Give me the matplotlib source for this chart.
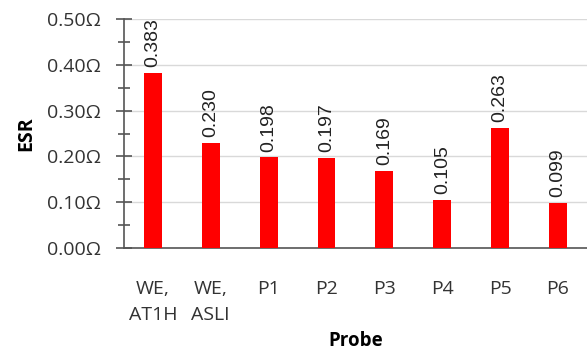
import numpy as np
import matplotlib.pyplot as plt
from matplotlib.ticker import MultipleLocator, FuncFormatter

# Daten
probes = ["WE,\nAT1H", "WE,\nASLI", "P1", "P2", "P3", "P4", "P5", "P6"]
esr = [0.383, 0.230, 0.198, 0.197, 0.169, 0.105, 0.263, 0.099]
value_labels = ["0.383", "0.230", "0.198", "0.197", "0.169", "0.105", "0.263", "0.099"]

fig = plt.figure(figsize=(5.87, 3.54), dpi=100)
ax = fig.add_axes([0.211, 0.2994, 0.789, 0.6469])

x = np.arange(len(probes))
ax.bar(x, esr, width=0.31, color="#ff0000", zorder=3)

for xi, v, lab in zip(x, esr, value_labels):
    ax.text(xi, v + 0.012, lab, rotation=90, ha="center", va="bottom",
            fontsize=14, family="Liberation Sans", color="#222222")

ax.set_xlim(-0.5, len(probes) - 0.5)
ax.set_ylim(0, 0.5)
ax.yaxis.set_major_locator(MultipleLocator(0.1))
ax.yaxis.set_minor_locator(MultipleLocator(0.05))
ax.yaxis.set_major_formatter(FuncFormatter(lambda v, p: f"{v:.2f}\u03a9"))
ax.grid(axis="y", which="major", color="#d9d9d9", linewidth=1, zorder=0)

for s in ["top", "right"]:
    ax.spines[s].set_visible(False)
for s in ["left", "bottom"]:
    ax.spines[s].set_color("#555555")
    ax.spines[s].set_linewidth(1.2)

ax.tick_params(axis="y", which="major", direction="inout", length=11, width=1.2,
               color="#555555", labelsize=14, labelcolor="#333333", pad=11)
ax.tick_params(axis="y", which="minor", direction="inout", length=8, width=1.2,
               color="#555555")
ax.tick_params(axis="x", length=0, labelsize=14, labelcolor="#333333", pad=23)

ax.set_xticks(x)
ax.set_xticklabels(probes, linespacing=1.55)
for t in ax.get_xticklabels() + ax.get_yticklabels():
    t.set_family("Open Sans")

ax.set_xlabel("Probe", fontsize=13.5, fontweight="bold", family="Open Sans", labelpad=5)
ax.set_ylabel("ESR", fontsize=14, fontweight="bold", family="Open Sans", labelpad=8)

fig.savefig("out.png", dpi=100)
